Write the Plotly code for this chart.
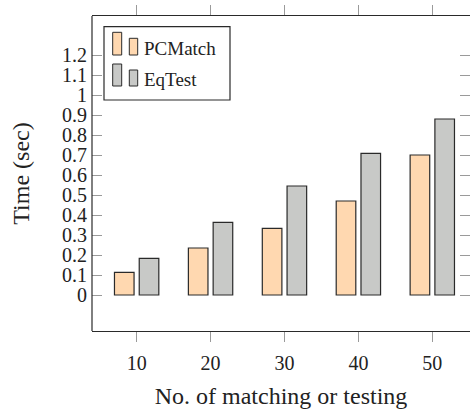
import plotly.graph_objects as go

categories = [10, 20, 30, 40, 50]
pcmatch = [0.113, 0.235, 0.333, 0.47, 0.70]
eqtest = [0.183, 0.363, 0.545, 0.708, 0.88]
ytick_vals = [0, 0.1, 0.2, 0.3, 0.4, 0.5, 0.6, 0.7, 0.8, 0.9, 1.0, 1.1, 1.2]
ytick_text = ["0", "0.1", "0.2", "0.3", "0.4", "0.5", "0.6", "0.7", "0.8", "0.9", "1", "1.1", "1.2"]
series_names = ["PCMatch", "EqTest"]
fills = ["#FFD8B0", "#C8C9C7"]
edge = "#2a2a2a"
FONT = "Liberation Serif, Times New Roman, serif"

fig = go.Figure()
fig.add_trace(go.Bar(x=categories, y=pcmatch, name=series_names[0], width=2.65, offset=-3.0,
                     marker=dict(color=fills[0], line=dict(color=edge, width=1.2)), showlegend=False))
fig.add_trace(go.Bar(x=categories, y=eqtest, name=series_names[1], width=2.65, offset=0.35,
                     marker=dict(color=fills[1], line=dict(color=edge, width=1.2)), showlegend=False))

# custom legend (pgfplots-style two-bar icons)
L, T, W, H = 92, 16, 378, 315
def px(x): return (x - L) / W
def py(y): return 1 - (y - T) / H

shapes = [
    # left frame line (right frame lies outside the visible area)
    dict(type="line", xref="paper", yref="paper", x0=0, x1=0, y0=0, y1=1, line=dict(color=edge, width=1.2), layer="above"),
    dict(type="rect", xref="paper", yref="paper", x0=px(104), x1=px(230), y0=py(100), y1=py(26.7),
         line=dict(color=edge, width=1.2), fillcolor="white", layer="above"),
]
rows = [(55, 32.3, 38.3), (86, 64, 70)]
for i, (base, top1, top2) in enumerate(rows):
    shapes.append(dict(type="rect", xref="paper", yref="paper", x0=px(112.7), x1=px(121.7), y0=py(base), y1=py(top1),
                       line=dict(color=edge, width=1), fillcolor=fills[i], layer="above"))
    shapes.append(dict(type="rect", xref="paper", yref="paper", x0=px(129.3), x1=px(137.7), y0=py(base), y1=py(top2),
                       line=dict(color=edge, width=1), fillcolor=fills[i], layer="above"))
annotations = []
for i, (base, _, _) in enumerate(rows):
    annotations.append(dict(text=series_names[i], xref="paper", yref="paper", x=px(142), y=py(base - 6.5),
                            xanchor="left", yanchor="middle", showarrow=False,
                            font=dict(family=FONT, size=19, color="#222")))

fig.update_layout(
    width=470, height=413,
    margin=dict(l=L, r=0, t=T, b=413 - T - H),
    paper_bgcolor="white", plot_bgcolor="white",
    barmode="overlay",
    font=dict(family=FONT, size=20, color="#222"),
    shapes=shapes, annotations=annotations,
    xaxis=dict(range=[3.96, 55.1], tickvals=categories, ticks="outside", ticklen=10, tickcolor="#9a9a9a",
               tickwidth=1, showline=True, linecolor=edge, linewidth=1.2, mirror="ticks", showgrid=False,
               zeroline=False, tickfont=dict(size=20), automargin=False, ticklabelstandoff=4,
               title=dict(text="No. of matching or testing", font=dict(size=24), standoff=14)),
    yaxis=dict(range=[-0.18, 1.395], tickvals=ytick_vals, ticktext=ytick_text, ticks="inside", ticklen=10,
               tickcolor="#9a9a9a", tickwidth=1, showline=False, mirror="ticks",
               showgrid=False, zeroline=False, tickfont=dict(size=20), automargin=False, ticklabelstandoff=4,
               title=dict(text="Time (sec)", font=dict(size=24), standoff=25)),
)
fig.write_html("out.html", config={"displayModeBar": False},
               post_script="document.body.style.margin='0';document.body.style.overflow='hidden';")
